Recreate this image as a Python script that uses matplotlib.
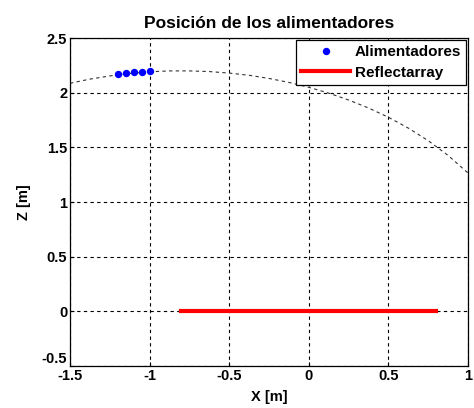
import matplotlib
matplotlib.use("Agg")
import matplotlib.pyplot as plt

plt.rcParams['font.family'] = ['Liberation Sans', 'DejaVu Sans']
plt.rcParams['font.weight'] = 'bold'

# Dashed arc
arc_x = [-1.5, -1.375, -1.25, -1.125, -1.0, -0.875, -0.75, -0.625, -0.5, -0.375,
         -0.25, -0.125, 0.0, 0.125, 0.25, 0.375, 0.5, 0.625, 0.75, 0.875, 1.0]
arc_z = [2.086, 2.124, 2.153, 2.176, 2.191, 2.199, 2.199, 2.193, 2.179, 2.159,
         2.130, 2.094, 2.049, 1.996, 1.933, 1.860, 1.775, 1.676, 1.561, 1.426, 1.265]

# Feeders
feed_x = [-1.2, -1.15, -1.1, -1.05, -1.0]
feed_z = [2.168, 2.177, 2.185, 2.191, 2.195]

# Reflectarray
refl_x = [-0.8, 0.8]
refl_z = [0.0, 0.0]

xticks = [-1.5, -1, -0.5, 0, 0.5, 1]
xtick_labels = ['-1.5', '-1', '-0.5', '0', '0.5', '1']
yticks = [-0.5, 0, 0.5, 1, 1.5, 2, 2.5]
ytick_labels = ['-0.5', '0', '0.5', '1', '1.5', '2', '2.5']

fig = plt.figure(figsize=(4.74, 4.08), dpi=100)
ax = fig.add_axes([70/474, 1 - 366/408, 398/474, 328/408])

ax.plot(arc_x, arc_z, color='#333333', lw=0.8, ls=(0, (3, 3)), zorder=2)
ax.plot(feed_x, feed_z, ls='none', marker='o', ms=4.3, color='#0000ff',
        label='Alimentadores', zorder=4)
ax.plot(refl_x, refl_z, color='#ff0000', lw=3, label='Reflectarray', zorder=3)

ax.set_xlim(-1.5, 1)
ax.set_ylim(-0.5, 2.5)
ax.set_xticks(xticks)
ax.set_xticklabels(xtick_labels)
ax.set_yticks(yticks)
ax.set_yticklabels(ytick_labels)
ax.tick_params(direction='in', length=3, width=0.8, labelsize=10.5, pad=2)
for lab in ax.get_xticklabels() + ax.get_yticklabels():
    lab.set_fontweight('bold')
ax.get_yticklabels()[0].set_va('bottom')
ax.grid(True, color='black', lw=0.8, ls=(0, (3, 3)))
ax.set_axisbelow(True)
for s in ax.spines.values():
    s.set_linewidth(0.9)
    s.set_color('black')

ax.set_xlabel('X [m]', fontsize=10.5, fontweight='bold', labelpad=5)
ax.set_ylabel('Z [m]', fontsize=10.5, fontweight='bold', labelpad=8)
ax.set_title('Posición de los alimentadores', fontsize=12.5, fontweight='bold', pad=7)

leg = ax.legend(loc='upper right', frameon=True, fancybox=False,
                framealpha=1, edgecolor='black', borderaxespad=0.1,
                handlelength=3.2, handletextpad=0.3, borderpad=0.35,
                labelspacing=0.45, prop={'weight': 'bold', 'size': 11})
leg.get_frame().set_linewidth(0.9)

fig.savefig('out.png', dpi=100)
